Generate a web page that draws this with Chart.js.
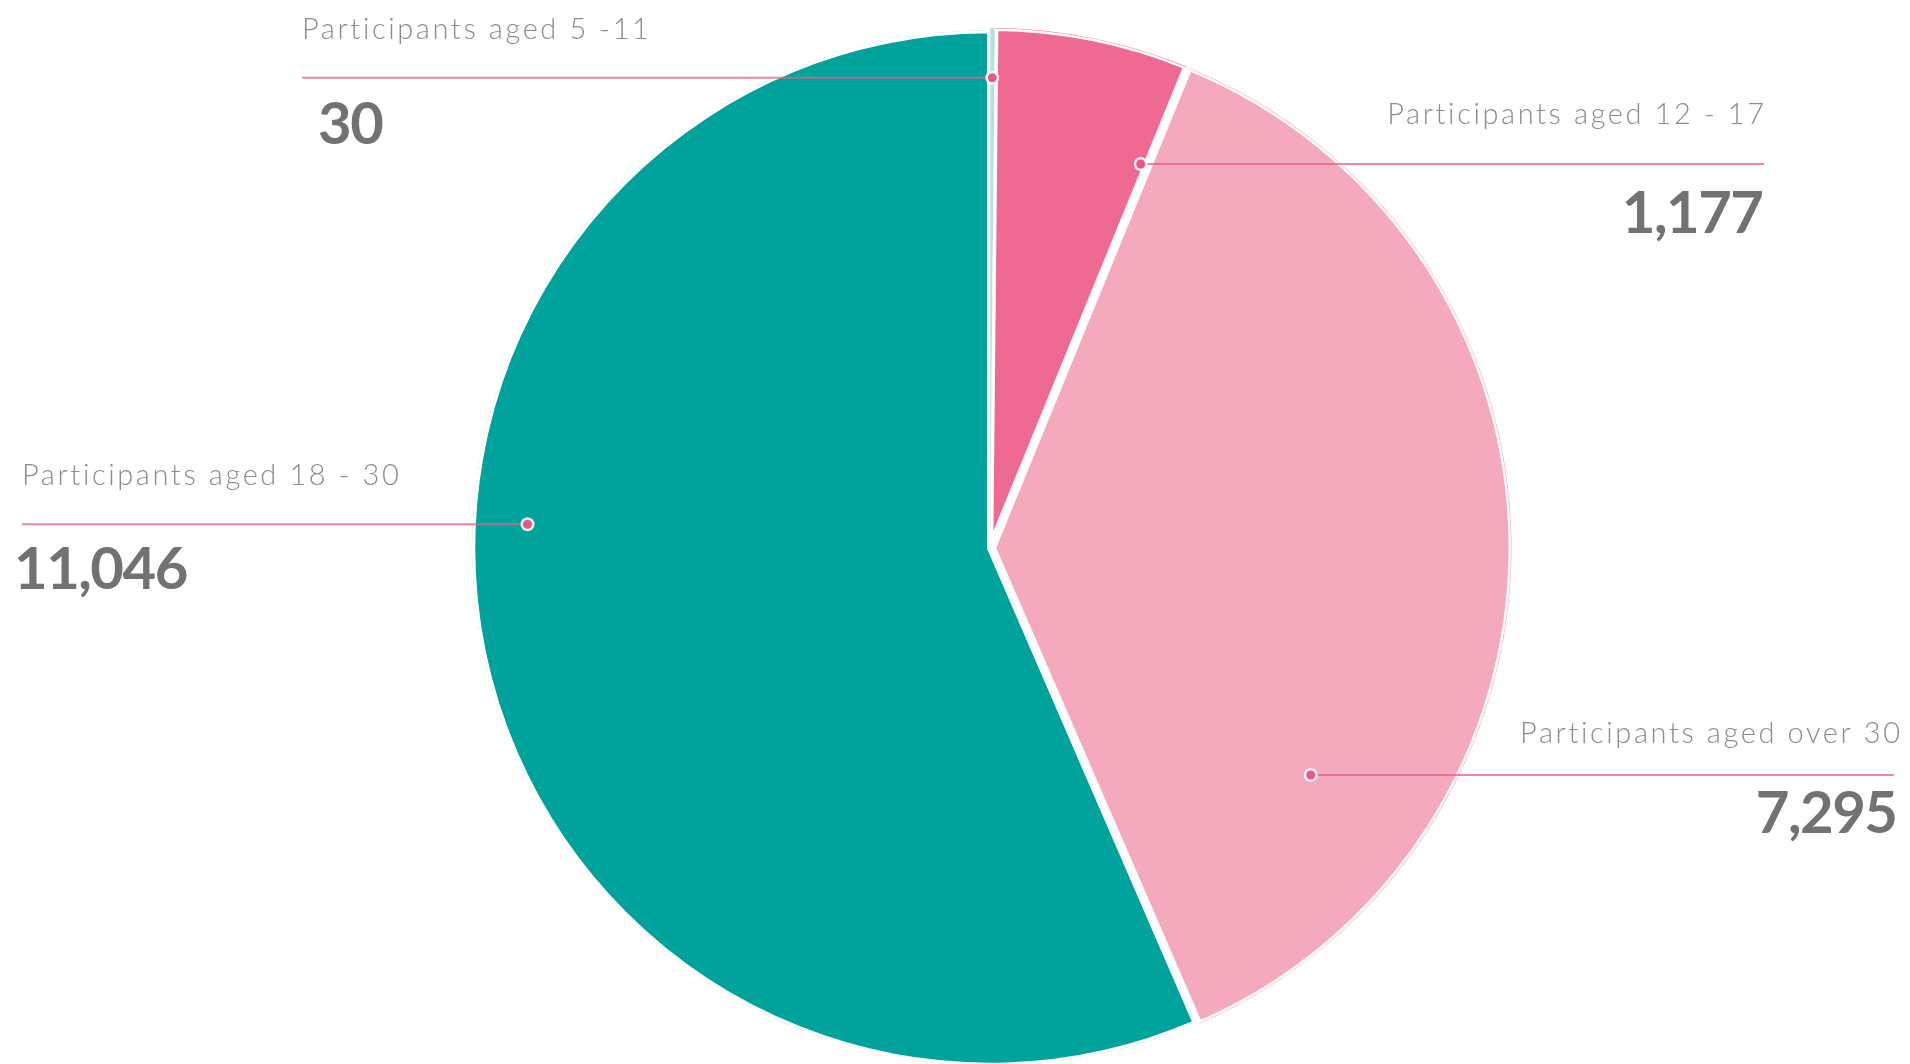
<!DOCTYPE html>
<html>
<head>
<meta charset="utf-8">
<script src="https://cdn.jsdelivr.net/npm/chart.js@4"></script>
<style>
  html, body { margin: 0; padding: 0; background: #fff; }
  #wrap { width: 1910px; height: 1064px; }
</style>
</head>
<body>
<div id="wrap"><canvas id="pieChart" width="1910" height="1064"></canvas></div>
<script>
const categories = ['Participants aged 5 -11', 'Participants aged 12 - 17', 'Participants aged over 30', 'Participants aged 18 - 30'];
const participants = [30, 1177, 7295, 11046];
const valueLabels = ['30', '1,177', '7,295', '11,046'];
const sliceColors = ['#b4e0dd', '#ee6a93', '#f4a9bd', '#00a39b'];
const sliceOffsets = [4, 6, 12, 0];

// where each callout sits: anchor inside the slice, then text on the left or right
const callouts = [
    { frac: 0.5,  rfrac: 0.90,  side: 'left',  textX: 302,  valueX: 318,  lineEnd: 302,  above: 48, below: 47 },
    { frac: 0.97, rfrac: 0.785, side: 'right', textX: 1764, valueX: 1764, lineEnd: 1764, above: 49, below: 50 },
    { frac: 0.775, rfrac: 0.74, side: 'right', textX: 1900, valueX: 1898, lineEnd: 1894, above: 41, below: 39 },
    { frac: 0.572, rfrac: 0.894, side: 'left', textX: 22,   valueX: 14,   lineEnd: 22,   above: 49, below: 46 }
];

const calloutPlugin = {
    id: 'callouts',
    afterDraw(chart) {
        const ctx = chart.ctx;
        const arcs = chart.getDatasetMeta(0).data;
        arcs.forEach((arc, i) => {
            const c = callouts[i];
            const a = arc.startAngle + c.frac * (arc.endAngle - arc.startAngle);
            const mid = (arc.startAngle + arc.endAngle) / 2;
            const off = sliceOffsets[i];
            const px = arc.x + Math.cos(a) * arc.outerRadius * c.rfrac + Math.cos(mid) * off;
            const py = arc.y + Math.sin(a) * arc.outerRadius * c.rfrac + Math.sin(mid) * off;

            ctx.save();
            // leader line
            ctx.strokeStyle = 'rgba(230, 95, 140, 0.75)';
            ctx.lineWidth = 2;
            ctx.beginPath();
            ctx.moveTo(px, py);
            ctx.lineTo(c.lineEnd, py);
            ctx.stroke();

            // dot
            ctx.beginPath();
            ctx.arc(px, py, 7, 0, Math.PI * 2);
            ctx.fillStyle = 'rgba(255,255,255,0.85)';
            ctx.fill();
            ctx.beginPath();
            ctx.arc(px, py, 4.5, 0, Math.PI * 2);
            ctx.fillStyle = '#e8578a';
            ctx.fill();

            // texts
            ctx.textAlign = c.side;
            ctx.textBaseline = 'middle';
            ctx.fillStyle = '#8c8c8c';
            ctx.font = '300 29px Lato';
            ctx.letterSpacing = '2.6px';
            const tx = c.side === 'right' ? c.textX + 2.6 : c.textX;
            ctx.fillText(categories[i], tx, py - c.above);
            ctx.fillStyle = '#727272';
            ctx.font = 'bold 58px Lato';
            ctx.letterSpacing = '-1.5px';
            const vx = c.side === 'right' ? c.valueX - 1.5 : c.valueX;
            ctx.fillText(valueLabels[i], vx, py + c.below);
            ctx.restore();
        });
    }
};

const ctx = document.getElementById('pieChart').getContext('2d');
new Chart(ctx, {
    type: 'pie',
    data: {
        labels: categories,
        datasets: [{
            data: participants,
            backgroundColor: sliceColors,
            borderColor: '#ffffff',
            borderWidth: [0, 3, 3, 3],
            borderAlign: 'inner',
            offset: sliceOffsets
        }]
    },
    options: {
        responsive: false,
        animation: false,
        radius: 518,
        layout: { padding: { left: 70, top: 32 } },
        plugins: {
            legend: { display: false },
            tooltip: { enabled: false }
        }
    },
    plugins: [calloutPlugin]
});
</script>
</body>
</html>
